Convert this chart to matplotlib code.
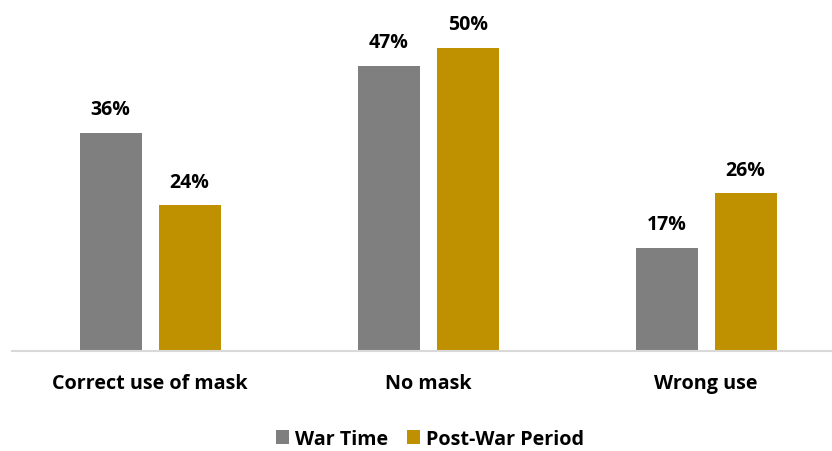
import matplotlib.pyplot as plt
import numpy as np

categories = ["Correct use of mask", "No mask", "Wrong use"]
war_time = [36, 47, 17]
post_war = [24, 50, 26]
series_names = ["War Time", "Post-War Period"]

grey = "#7F7F7F"
gold = "#BF9000"

plt.rcParams['font.family'] = ['Open Sans', 'DejaVu Sans']

fig = plt.figure(figsize=(8.32, 4.52), dpi=100)
# axes spans baseline (y=352px) to top of image, x from 12px to right edge
ax = fig.add_axes([12 / 832, 100 / 452, 820 / 832, 352 / 452])

x = np.arange(len(categories))
w = 0.223
off = 0.142
b1 = ax.bar(x - off, war_time, w, color=grey, label=series_names[0])
b2 = ax.bar(x + off, post_war, w, color=gold, label=series_names[1])

for bars in (b1, b2):
    for rect in bars:
        h = rect.get_height()
        ax.text(rect.get_x() + rect.get_width() / 2, h + 2.2, f"{h:.0f}%",
                ha="center", va="bottom", fontsize=14, fontweight="bold", color="#000000")

ax.set_xlim(-0.497, 2.453)
ax.set_ylim(0, 58)
ax.set_yticks([])
ax.set_xticks(x)
ax.set_xticklabels(categories, fontsize=14.2, fontweight="bold")
ax.tick_params(axis="x", length=0, pad=16)
for s in ["top", "right", "left"]:
    ax.spines[s].set_visible(False)
ax.spines["bottom"].set_color("#D9D9D9")
ax.spines["bottom"].set_linewidth(1.5)

leg = fig.legend(loc="center", bbox_to_anchor=(430 / 832, 1 - 440 / 452), ncol=2,
                 frameon=False, handlelength=0.65, handleheight=0.65, handletextpad=0.3,
                 columnspacing=1.0, prop={"size": 14.2, "weight": "bold"})

fig.savefig("out.png", dpi=100)
